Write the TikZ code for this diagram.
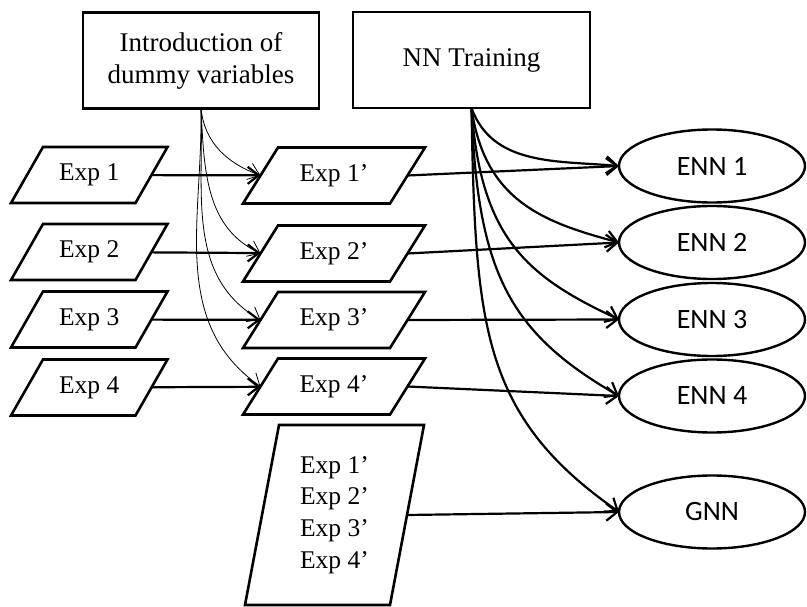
\documentclass[tikz,border=0pt]{standalone}
\usepackage{fontspec}
\setmainfont{Liberation Serif}
\newfontfamily\calibrifont{Carlito}
\usetikzlibrary{shapes.geometric,arrows.meta}

% parallelogram round a text node: #1 node name, #2 half of the horizontal slant
\newcommand\drawpara[2]{%
  \draw[paraline] ([xshift=-#2]#1.south west) -- ([xshift=-#2]#1.south east)
    -- ([xshift=#2]#1.north east) -- ([xshift=#2]#1.north west) -- cycle;}

\begin{document}
\begin{tikzpicture}[x=1pt,y=1pt,
  every node/.style={inner sep=0pt, outer sep=0pt},
  procbox/.style={draw, line width=2.6pt, minimum width=236pt, minimum height=96pt,
    align=center, font=\fontsize{27}{32}\selectfont},
  expdata/.style={minimum height=56pt, font=\fontsize{25.5}{31.7}\selectfont},
  paraline/.style={line width=2.6pt, line join=miter},
  netnode/.style={draw, ellipse, line width=2.4pt, minimum width=186pt, minimum height=73pt,
    font=\calibrifont\fontsize{28}{30}\selectfont},
  flow/.style={line width=2.2pt, -{Straight Barb[length=11pt,width=17pt]}},
  thinflow/.style={line width=0.8pt, -{Straight Barb[length=11pt,width=17pt]}},
]
\useasboundingbox (0,0) rectangle (807,-607);

% process boxes
\node[procbox] (intro) at (201,-60.5) {Introduction of\\dummy variables};
\node[procbox, minimum width=237pt] (nntrain) at (471.5,-60) {NN Training};

% raw experiment data
\node[expdata, minimum width=124.5pt] (e1) at (89.25,-175) {Exp 1};
\node[expdata, minimum width=124.5pt] (e2) at (89.25,-252) {Exp 2};
\node[expdata, minimum width=124.5pt] (e3) at (89.25,-319.5) {Exp 3};
\node[expdata, minimum width=124.5pt] (e4) at (89.25,-387.5) {Exp 4};

% data with dummy variables
\node[expdata, minimum width=147pt] (d1) at (334,-175.5) {Exp 1’};
\node[expdata, minimum width=147pt] (d2) at (334,-253.5) {Exp 2’};
\node[expdata, minimum width=147pt] (d3) at (334,-320) {Exp 3’};
\node[expdata, minimum width=147pt] (d4) at (334,-386.5) {Exp 4’};

% combined data set
\node[expdata, minimum width=145pt, minimum height=180pt, align=left] (dall)
  at (334.5,-515) {Exp 1’\\Exp 2’\\Exp 3’\\Exp 4’};

\foreach \i in {1,...,4} {
  \drawpara{e\i}{16pt}
  \drawpara{d\i}{17.5pt}
}
\drawpara{dall}{17pt}

% networks
\node[netnode] (n1) at (712,-166) {ENN 1};
\node[netnode] (n2) at (712,-242.5) {ENN 2};
\node[netnode] (n3) at (712,-319.5) {ENN 3};
\node[netnode] (n4) at (712,-396) {ENN 4};
\node[netnode] (gnn) at (712,-512) {GNN};

% data flow
\foreach \i in {1,...,4} {
  \draw[flow] (e\i) -- (d\i);
  \draw[flow] (d\i.east) -- (n\i.west);
}
\draw[flow] (dall.east) -- (gnn.west);

% dummy variable fan
\draw[thinflow] (intro.south) to[out=-84, in=160] (d1.west);
\draw[thinflow] (intro.south) to[out=-87, in=155] (d2.west);
\draw[thinflow] (intro.south) to[out=-88, in=150] (d3.west);
\draw[thinflow] (intro.south) to[out=-89, in=145] (d4.west);

% training fan
\draw[flow] (nntrain.south) to[out=-70, in=175] (n1.west);
\draw[flow] (nntrain.south) to[out=-82, in=165, out looseness=1.2] (n2.west);
\draw[flow] (nntrain.south) to[out=-86, in=155, out looseness=1.3] (n3.west);
\draw[flow] (nntrain.south) to[out=-88, in=150, out looseness=1.3] (n4.west);
\draw[flow] (nntrain.south) to[out=-89, in=145, out looseness=1.3] (gnn.west);
\end{tikzpicture}
\end{document}
